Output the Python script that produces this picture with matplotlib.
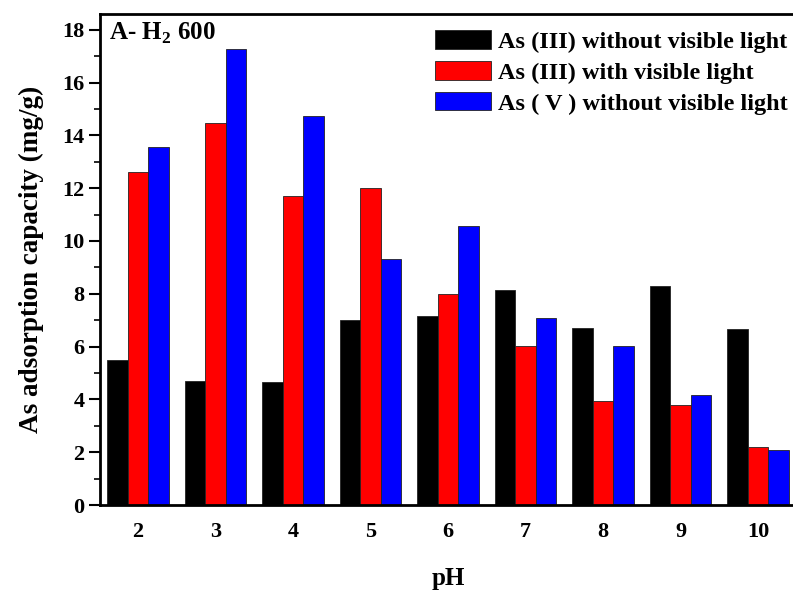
import numpy as np
import matplotlib
matplotlib.use('Agg')
import matplotlib.pyplot as plt
from matplotlib.ticker import MultipleLocator

plt.rcParams['font.family'] = ['Liberation Serif', 'DejaVu Serif']
plt.rcParams['font.weight'] = 'bold'
plt.rcParams['mathtext.fontset'] = 'custom'
plt.rcParams['mathtext.rm'] = 'Liberation Serif:bold'
plt.rcParams['mathtext.bf'] = 'Liberation Serif:bold'

ph = [2, 3, 4, 5, 6, 7, 8, 9, 10]
as3_dark = [5.5, 4.7, 4.65, 7.0, 7.14, 8.13, 6.72, 8.28, 6.65]
as3_light = [12.6, 14.45, 11.7, 12.0, 7.98, 6.02, 3.95, 3.77, 2.2]
as5_dark = [13.55, 17.27, 14.74, 9.3, 10.56, 7.1, 6.04, 4.18, 2.1]

labels = ['As (III) without visible light',
          'As (III) with visible light',
          'As ( V ) without visible light']
colors = ['#000000', '#ff0000', '#0000ff']

fig = plt.figure(figsize=(7.93, 5.91), dpi=100)
ax = fig.add_axes([0.126, 0.1455, 0.879, 0.831])

x = np.array(ph)
w = 0.265
for i, vals in enumerate([as3_dark, as3_light, as5_dark]):
    ax.bar(x + (i - 1) * w, vals, width=w, color=colors[i],
           edgecolor='#222222', linewidth=0.6, label=labels[i])

ax.set_xlim(1.51, 10.5)
ax.set_ylim(0, 18.6)
ax.set_xticks(ph)
ax.yaxis.set_major_locator(MultipleLocator(2))
ax.yaxis.set_minor_locator(MultipleLocator(1))
ax.tick_params(axis='x', length=0, pad=12, labelsize=16)
ax.tick_params(axis='y', which='major', direction='out', length=8, width=1.5, labelsize=16, pad=3)
ax.tick_params(axis='y', which='minor', direction='out', length=4, width=1.2)
for s in ax.spines.values():
    s.set_linewidth(2)
ax.spines['right'].set_visible(False)

ax.set_xlabel('pH', fontsize=18, fontweight='bold', labelpad=18)
ax.set_ylabel('As adsorption capacity (mg/g)', fontsize=19.5, fontweight='bold', labelpad=13)

ax.text(0.013, 0.985, 'A- H$_2$ 600', transform=ax.transAxes, ha='left', va='top',
        fontsize=18, fontweight='bold')

ax.legend(loc='upper right', bbox_to_anchor=(1.0, 0.957), bbox_transform=fig.transFigure,
          frameon=False, prop={'size': 17.5, 'weight': 'bold'}, handlelength=2.3,
          handleheight=0.8, handletextpad=0.3, labelspacing=0.33, borderaxespad=0,
          borderpad=0.2)

fig.savefig('out.png', dpi=100)
